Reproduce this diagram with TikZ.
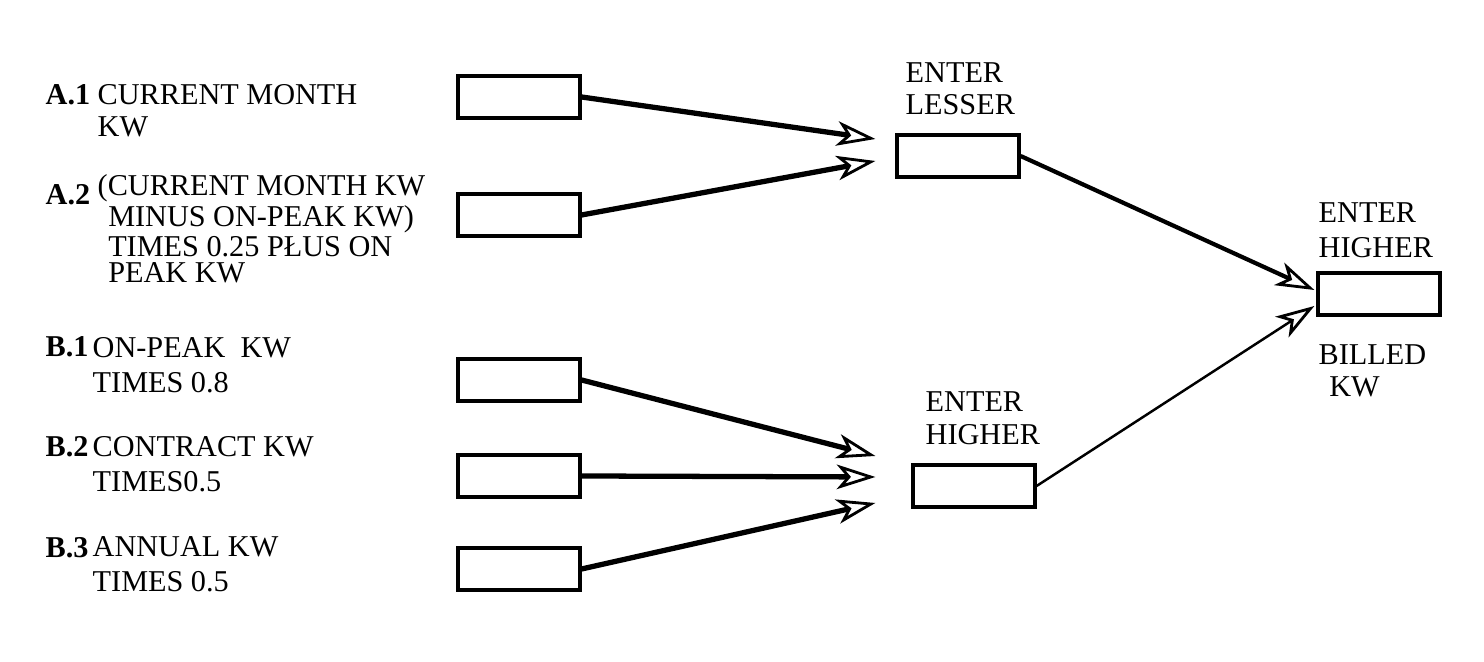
\documentclass[tikz,border=0pt]{standalone}
\usepackage{fontspec}
\setmainfont{Liberation Serif}
\usetikzlibrary{arrows.meta,calc}

\tikzset{
  valbox/.style={draw, line width=0.9pt, minimum width=1.22cm, minimum height=0.42cm, inner sep=0pt},
  lbl/.style={font=\fontsize{8.6pt}{#1}\selectfont, align=left, inner sep=0pt, anchor=base west},
  lbl/.default=9pt,
  feed/.style={line width=1.5pt, -{Stealth[open, length=11pt, width=7pt, inset=3pt, line width=0.8pt]}},
}

\begin{document}
\begin{tikzpicture}[x=0.01cm, y=-0.01cm]
    \useasboundingbox (0,0) rectangle (1484,662);
    % boxes
    \node[valbox] (a1) at (519,97) {};
    \node[valbox] (a2) at (519,215) {};
    \node[valbox] (b1) at (519,380) {};
    \node[valbox] (b2) at (519,476) {};
    \node[valbox] (b3) at (519,569) {};
    \node[valbox] (lesser) at (958,156) {};
    \node[valbox] (higher) at (974,486) {};
    \node[valbox] (billed) at (1379,294) {};

    % left texts (base = last line)
    \node[lbl] (a1n) at (45,105) {\textbf{A.1}};
    \node[lbl=9.1pt] (a1t) at (97,137) {CURRENT MONTH\\KW};
    \node[lbl] (a2n) at (45,205) {\textbf{A.2}};
    \node[lbl=7.4pt] (a2t) at (97,283) {(CURRENT MONTH KW\\\hspace{3pt}MINUS ON-PEAK KW)\\\hspace{3pt}TIMES 0.25 PŁUS ON\\\hspace{3pt}PEAK KW};
    \node[lbl] (b1n) at (45,357) {\textbf{B.1}};
    \node[lbl=10pt] (b1t) at (92,393) {ON-PEAK\ \ KW\\TIMES 0.8};
    \node[lbl] (b2n) at (45,457) {\textbf{B.2}};
    \node[lbl=10pt] (b2t) at (92,492) {CONTRACT KW\\TIMES0.5};
    \node[lbl] (b3n) at (45,558) {\textbf{B.3}};
    \node[lbl=10pt] (b3t) at (92,592) {ANNUAL KW\\TIMES 0.5};

    % right texts
    \node[lbl=9.1pt] (lessert) at (905,115) {ENTER\\LESSER};
    \node[lbl=9.4pt] (highert) at (925,445) {ENTER\\HIGHER};
    \node[lbl=10.2pt] (billedt) at (1318,258) {ENTER\\HIGHER};
    \node[lbl=9.1pt] (billedkw) at (1318,397) {BILLED\\\hspace{3pt}KW};

    % arrows
    \draw[feed] (a1.east) -- ($(lesser.west)+(-20,-17)$);
    \draw[feed] (a2.east) -- ($(lesser.west)+(-20,5)$);
    \draw[feed] (b1.east) -- ($(higher.west)+(-36,-30)$);
    \draw[feed] (b2.east) -- ($(higher.west)+(-36,-9)$);
    \draw[feed] (b3.east) -- ($(higher.west)+(-36,17)$);
    \draw[feed, line width=1.2pt] (lesser.east) -- ($(billed.west)+(-2,-4)$);
    \draw[feed, line width=0.7pt] (higher.east) -- ($(billed.west)+(-2,12)$);
\end{tikzpicture}
\end{document}
